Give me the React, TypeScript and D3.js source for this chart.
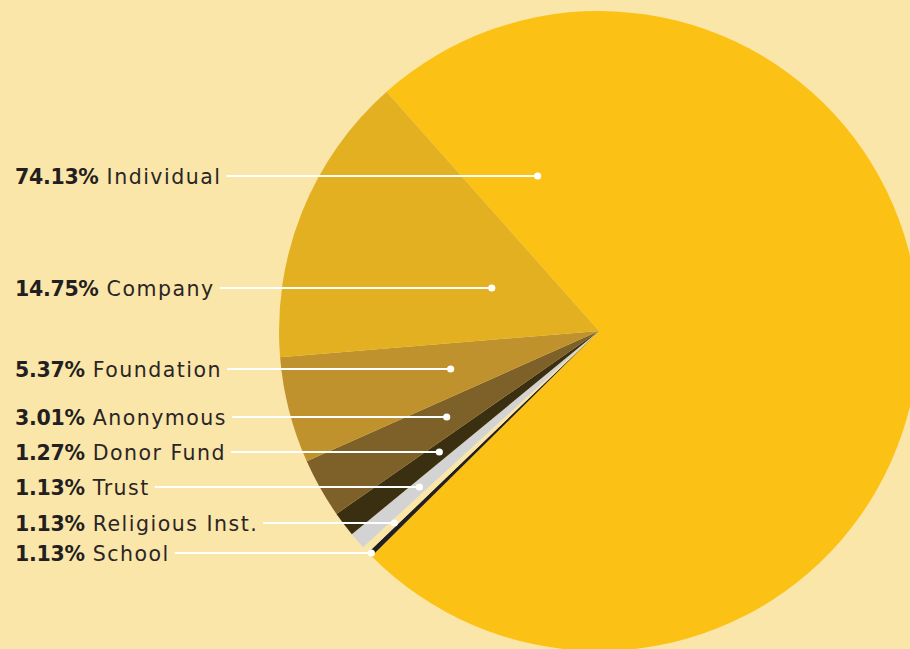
import { useEffect, useRef } from "react";
import * as d3 from "d3";

// slice order runs clockwise from the top-left edge of "Individual"
const categories = [
  "Individual",
  "School",
  "Religious Inst.",
  "Trust",
  "Donor Fund",
  "Anonymous",
  "Foundation",
  "Company",
];
const pctLabels = ["74.13%", "1.13%", "1.13%", "1.13%", "1.27%", "3.01%", "5.37%", "14.75%"];
// slice sizes as drawn in the picture (the three smallest are drawn thinner than their labels)
const sliceValues = [74.13, 0.25, 0.37, 0.85, 1.27, 3.01, 5.37, 14.75];
const colors = ["#FCC115", "#231F20", "#FBE6A9", "#D3D3D3", "#3B2F12", "#7E6128", "#BF922E", "#E3B022"];

// legend reads top to bottom
const legendOrder = ["Individual", "Company", "Foundation", "Anonymous", "Donor Fund", "Trust", "Religious Inst.", "School"];

const W = 910;
const H = 649;
const BG = "#FBE6A9";

export default function App() {
  const svgRef = useRef<SVGSVGElement>(null);

  useEffect(() => {
    const svg = d3.select(svgRef.current!);
    svg.selectAll("*").remove();

    const cx = 599;
    const cy = 331;
    const r = 320;
    const start = (318.4 * Math.PI) / 180;

    const data = categories.map((c, i) => ({
      name: c,
      pct: pctLabels[i],
      value: sliceValues[i],
      color: colors[i],
    }));

    const pie = d3
      .pie<(typeof data)[0]>()
      .sort(null)
      .value((d) => d.value)
      .startAngle(start)
      .endAngle(start + 2 * Math.PI);
    const arcs = pie(data);
    const arc = d3.arc<d3.PieArcDatum<(typeof data)[0]>>().innerRadius(0).outerRadius(r);

    svg.append("rect").attr("width", W).attr("height", H).attr("fill", BG);

    const g = svg.append("g").attr("transform", `translate(${cx},${cy})`);
    g.selectAll("path")
      .data(arcs)
      .join("path")
      .attr("d", arc)
      .attr("fill", (d) => d.data.color);

    // label rows
    const rowY = d3
      .scaleOrdinal<string, number>()
      .domain(legendOrder)
      .range([176, 288, 369, 417, 452, 487, 523, 553]);

    const labels = svg.append("g");
    for (const a of arcs) {
      const y = rowY(a.data.name);
      const t = labels
        .append("text")
        .attr("x", 15)
        .attr("y", y + 7.5)
        .attr("fill", "#231F20")
        .attr("font-family", "'DejaVu Sans', sans-serif")
        .attr("font-size", 20.5);
      t.append("tspan").attr("font-weight", 700).attr("letter-spacing", -0.3).text(a.data.pct);
      t.append("tspan")
        .attr("font-weight", 400)
        .attr("letter-spacing", 1.5)
        .attr("fill", "#2a2526")
        .text(" " + a.data.name);
      const tw = (t.node() as SVGTextElement).getComputedTextLength();

      // anchor ray: slice mid-angle, or near the start edge for the big slice
      const ang =
        a.endAngle - a.startAngle > Math.PI
          ? a.startAngle + (20 * Math.PI) / 180
          : (a.startAngle + a.endAngle) / 2;
      const dy = y - cy;
      // point on the ray at this row: dy = -cos(ang) * rho
      const rho = dy / -Math.cos(ang);
      const dotX = cx + Math.sin(ang) * rho;

      labels
        .append("line")
        .attr("x1", 15 + tw + 5)
        .attr("x2", dotX)
        .attr("y1", y)
        .attr("y2", y)
        .attr("stroke", "#fff")
        .attr("stroke-width", 1.8);
      labels
        .append("circle")
        .attr("cx", dotX)
        .attr("cy", y)
        .attr("r", 3.6)
        .attr("fill", "#fff");
    }
  }, []);

  return (
    <svg
      ref={svgRef}
      width={W}
      height={H}
      style={{ position: "absolute", left: 0, top: 0, display: "block" }}
    />
  );
}
